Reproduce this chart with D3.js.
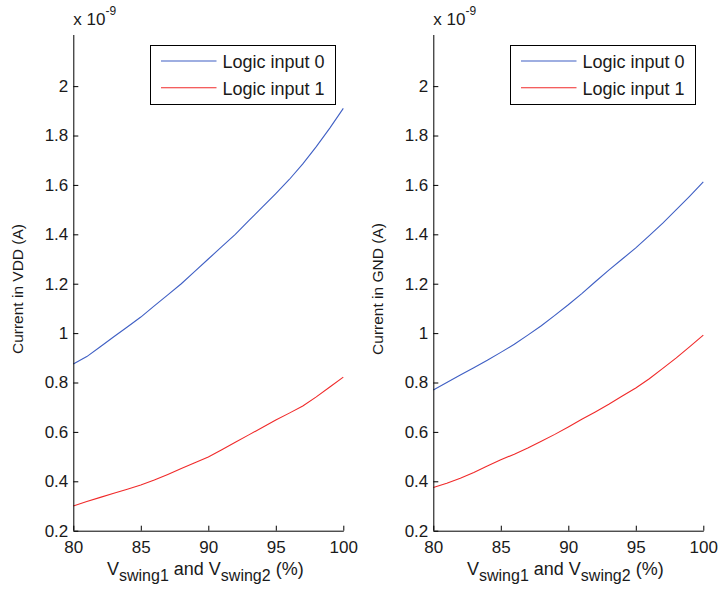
<!DOCTYPE html>
<html>
<head>
<meta charset="utf-8">
<script src="https://cdn.jsdelivr.net/npm/d3@7"></script>
<style>
  html, body { margin: 0; padding: 0; background: #fff; }
  svg { display: block; font-family: "Liberation Sans", Arial, sans-serif; }
</style>
</head>
<body>
<svg id="chart" width="719" height="591"></svg>
<script>
// ---- data ----
const swingPct = [80,81,82,83,84,85,86,87,88,89,90,91,92,93,94,95,96,97,98,99,100];
const vddLogic0 = [0.875,0.905,0.945,0.985,1.025,1.065,1.11,1.155,1.20,1.25,1.30,1.35,1.40,1.455,1.51,1.565,1.622,1.685,1.755,1.83,1.91];
const vddLogic1 = [0.300,0.318,0.335,0.352,0.368,0.385,0.405,0.428,0.452,0.475,0.498,0.528,0.558,0.588,0.618,0.648,0.676,0.705,0.742,0.782,0.822];
const gndLogic0 = [0.770,0.800,0.830,0.860,0.890,0.922,0.955,0.992,1.03,1.072,1.115,1.16,1.208,1.255,1.30,1.345,1.395,1.445,1.50,1.555,1.612];
const gndLogic1 = [0.375,0.392,0.412,0.436,0.462,0.487,0.510,0.535,0.562,0.590,0.620,0.651,0.681,0.712,0.745,0.778,0.815,0.857,0.900,0.945,0.992];
const seriesNames = ["Logic input 0", "Logic input 1"];
const seriesColors = ["#3f5fc4", "#f02a2a"];
const xTicks = [80, 85, 90, 95, 100];
const yTicks = [0.2, 0.4, 0.6, 0.8, 1, 1.2, 1.4, 1.6, 1.8, 2];
const yLabels = ["Current in VDD (A)", "Current in GND (A)"];
const panelData = [[vddLogic0, vddLogic1], [gndLogic0, gndLogic1]];

// ---- layout ----
const svg = d3.select("#chart");
const panelLeft = [73.3, 433.3];
const plotW = 270, yTop = 35, yBottom = 530.7;

panelData.forEach((series, pi) => {
  const ox = panelLeft[pi];
  const g = svg.append("g").attr("transform", `translate(${ox},0)`);
  const x = d3.scaleLinear().domain([80, 100]).range([0, plotW]);
  const y = d3.scaleLinear().domain([0.2, 2.207]).range([yBottom, yTop]);

  // lines
  const line = d3.line().x((d, i) => x(swingPct[i])).y(d => y(d));
  series.forEach((s, si) => {
    g.append("path").datum(s)
      .attr("d", line)
      .attr("fill", "none")
      .attr("stroke", seriesColors[si])
      .attr("stroke-width", 1.1);
  });

  // axes
  const ax = g.append("g").attr("transform", `translate(0,${yBottom})`)
    .call(d3.axisBottom(x).tickValues(xTicks).tickSizeInner(-5).tickSizeOuter(0).tickPadding(10).tickFormat(d3.format("d")));
  const ay = g.append("g")
    .call(d3.axisLeft(y).tickValues(yTicks).tickSizeInner(-5).tickSizeOuter(0).tickPadding(5).tickFormat(d => String(+d.toFixed(1))));
  ay.select(".domain").attr("d", `M0.5,${yBottom}V${yTop}`);
  [ax, ay].forEach(a => {
    a.selectAll("text").attr("font-size", 17).attr("fill", "#1a1a1a").attr("font-family", "Liberation Sans, Arial, sans-serif");
    a.selectAll("line, path").attr("stroke", "#000").attr("stroke-width", 1);
  });

  // exponent
  const ex = g.append("text").attr("x", 0).attr("y", 25).attr("font-size", 17).attr("fill", "#1a1a1a");
  ex.append("tspan").text("x 10");
  ex.append("tspan").attr("font-size", 12).attr("dy", -10).text("-9");

  // y label
  svg.append("text")
    .attr("transform", `translate(${ox - 50},${289}) rotate(-90)`)
    .attr("text-anchor", "middle")
    .attr("font-size", 15.5).attr("fill", "#1a1a1a")
    .text(yLabels[pi]);

  // x label
  const xl = g.append("text").attr("x", plotW / 2 - 3).attr("y", 575)
    .attr("text-anchor", "middle").attr("font-size", 18).attr("fill", "#1a1a1a");
  xl.append("tspan").text("V");
  xl.append("tspan").attr("font-size", 16).attr("dy", 6).text("swing1");
  xl.append("tspan").attr("dy", -6).text(" and V");
  xl.append("tspan").attr("font-size", 16).attr("dy", 6).text("swing2");
  xl.append("tspan").attr("dy", -6).text(" (%)");

  // legend
  const lg = g.append("g").attr("transform", "translate(76.7,45)");
  lg.append("rect").attr("x", 0.5).attr("y", 0.5).attr("width", 185).attr("height", 59)
    .attr("fill", "#fff").attr("stroke", "#000").attr("stroke-width", 1);
  seriesNames.forEach((name, si) => {
    const ly = 16 + si * 26.7;
    lg.append("line").attr("x1", 11).attr("x2", 66.5).attr("y1", ly).attr("y2", ly)
      .attr("stroke", seriesColors[si]).attr("stroke-width", 1.1);
    lg.append("text").attr("x", 72.5).attr("y", ly + 7).attr("font-size", 18)
      .attr("fill", "#1a1a1a").text(name);
  });
});
</script>
</body>
</html>
